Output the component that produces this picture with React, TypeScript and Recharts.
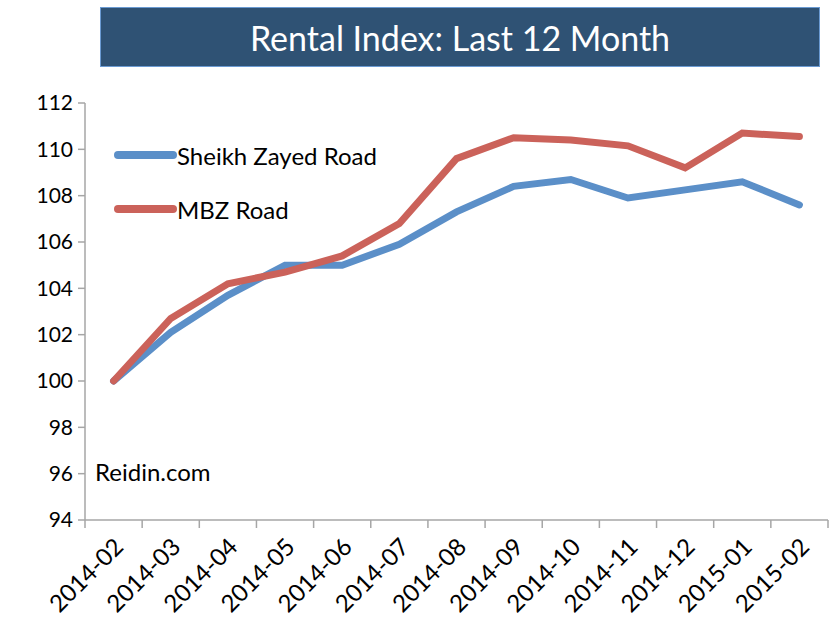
import React from "react";
import { Line, LineChart, XAxis, YAxis } from "recharts";

const months = [
  "2014-02", "2014-03", "2014-04", "2014-05", "2014-06", "2014-07", "2014-08",
  "2014-09", "2014-10", "2014-11", "2014-12", "2015-01", "2015-02",
];
const sheikhZayed = [100, 102.1, 103.7, 105.0, 105.0, 105.9, 107.3, 108.4, 108.7, 107.9, 108.25, 108.6, 107.6];
const mbzRoad = [100, 102.7, 104.2, 104.7, 105.4, 106.8, 109.6, 110.5, 110.4, 110.15, 109.2, 110.7, 110.55];
const yTicks = [94, 96, 98, 100, 102, 104, 106, 108, 110, 112];

const data = months.map((m, i) => ({ month: m, szr: sheikhZayed[i], mbz: mbzRoad[i] }));

const FONT = "Lato, 'Open Sans', sans-serif";
const BLUE = "#5b8fc8";
const RED = "#cb625a";
const AXIS = "#a6a6a6";

const W = 833;
const H = 620;
const PLOT_LEFT = 85;
const PLOT_RIGHT = 5;
const HALF_STEP = (W - PLOT_LEFT - PLOT_RIGHT) / months.length / 2;

const series = [
  { key: "szr", name: "Sheikh Zayed Road", color: BLUE },
  { key: "mbz", name: "MBZ Road", color: RED },
];

function MonthTick(props: any) {
  const { x, y, payload, index } = props;
  return (
    <g>
      <line x1={x - HALF_STEP} y1={y - 8} x2={x - HALF_STEP} y2={y} stroke={AXIS} strokeWidth={1.5} />
      {index === months.length - 1 && (
        <line x1={x + HALF_STEP} y1={y - 8} x2={x + HALF_STEP} y2={y} stroke={AXIS} strokeWidth={1.5} />
      )}
      <text
        x={x + 7}
        y={y + 16}
        transform={`rotate(-45, ${x + 7}, ${y + 16})`}
        textAnchor="end"
        dominantBaseline="middle"
        fontSize={24}
        fontFamily={FONT}
        fill="#000"
      >
        {payload.value}
      </text>
    </g>
  );
}

export default function App() {
  return (
    <div style={{ position: "absolute", left: 0, top: 0, width: W, height: H, background: "#fff" }}>
      <div
        style={{
          position: "absolute",
          left: 100,
          top: 7,
          width: 718,
          height: 58,
          background: "#2f5274",
          border: "1.5px solid #6a9ad2",
          color: "#fff",
          fontFamily: FONT,
          fontSize: 34,
          display: "flex",
          alignItems: "center",
          justifyContent: "center",
        }}
      >
        Rental Index: Last 12 Month
      </div>
      <LineChart
        width={W}
        height={H}
        data={data}
        margin={{ top: 103, right: PLOT_RIGHT, left: 0, bottom: 0 }}
      >
        <XAxis
          dataKey="month"
          padding={{ left: HALF_STEP, right: HALF_STEP }}
          interval={0}
          height={100}
          tickLine={false}
          tick={<MonthTick />}
          axisLine={{ stroke: AXIS, strokeWidth: 1.5 }}
        />
        <YAxis
          domain={[94, 112]}
          ticks={yTicks}
          width={PLOT_LEFT}
          tickSize={7}
          tickMargin={5}
          tickLine={{ stroke: AXIS, strokeWidth: 1.5 }}
          axisLine={{ stroke: AXIS, strokeWidth: 1.5 }}
          tick={{ fontSize: 21, fontFamily: FONT, fill: "#000" }}
        />
        {series.map((s) => (
          <Line
            key={s.key}
            type="linear"
            dataKey={s.key}
            name={s.name}
            stroke={s.color}
            strokeWidth={7}
            strokeLinecap="round"
            dot={false}
            isAnimationActive={false}
          />
        ))}
      </LineChart>
      <div style={{ position: "absolute", left: 113, top: 128, fontFamily: FONT, fontSize: 24 }}>
        {series.map((s) => (
          <div key={s.key} style={{ display: "flex", alignItems: "center", height: 54 }}>
            <svg width={64} height={10}>
              <line x1={5} y1={5} x2={60} y2={5} stroke={s.color} strokeWidth={8} strokeLinecap="round" />
            </svg>
            <span style={{ color: "#000" }}>{s.name}</span>
          </div>
        ))}
      </div>
      <div style={{ position: "absolute", left: 95, top: 457, fontFamily: FONT, fontSize: 24, color: "#000" }}>
        Reidin.com
      </div>
    </div>
  );
}
